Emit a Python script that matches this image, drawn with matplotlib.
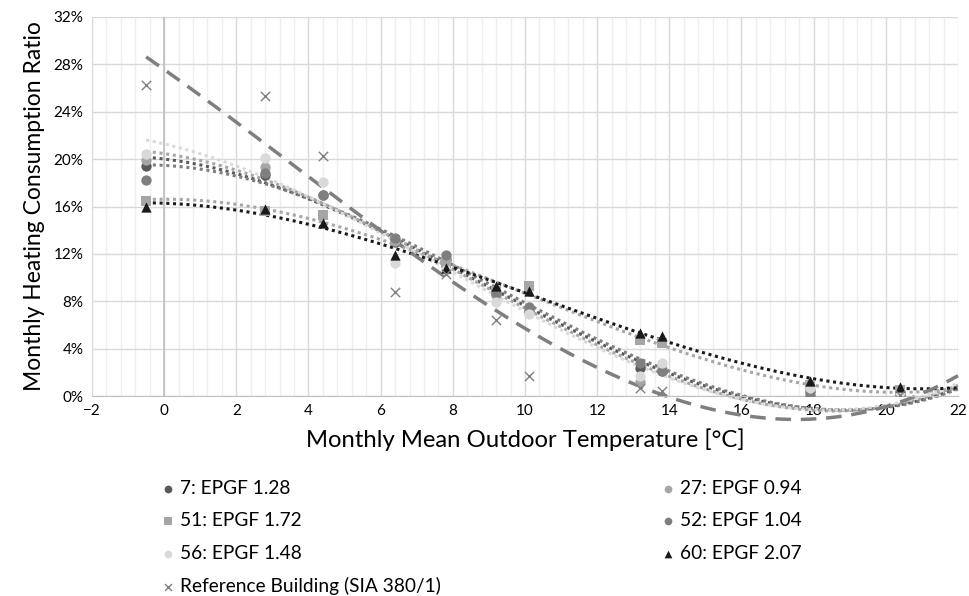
import numpy as np
import matplotlib
matplotlib.use("Agg")
import matplotlib.pyplot as plt
from matplotlib.ticker import MultipleLocator, FuncFormatter

# Points mensuels (ratio en %)
temps = [-0.5, 2.8, 4.4, 6.4, 7.8, 9.2, 10.1, 13.2, 13.8, 17.9, 20.4]

b7 = [19.4, 18.7, 17.0, 13.0, 11.6, 8.6, 7.2, 2.4, 2.1, 0.4, 0.2]
b27 = [19.9, 19.3, 17.0, 13.1, 11.4, 8.5, 7.0, 1.2, 2.3, 0.3, 0.2]
b51 = [16.5, 15.6, 15.3, 13.2, 11.2, 8.9, 9.3, 4.7, 4.5, 0.9, 0.5]
b52 = [18.2, 18.8, 17.0, 13.3, 11.9, 8.7, 7.5, 2.8, 2.1, 0.1, 0.2]
b56 = [20.4, 20.1, 18.1, 11.2, 10.6, 7.9, 6.9, 1.7, 2.8, 0.7, 0.3]
b60 = [16.0, 15.8, 14.6, 11.9, 10.8, 9.3, 8.9, 5.3, 5.1, 1.3, 0.8]
ref = [26.3, 25.3, 20.3, 8.8, 10.3, 6.4, 1.7, 0.7, 0.4, 0.0, 0.1]

# Courbes de tendance (polynôme ordre 3)
trend_x = [-0.5, 2, 6, 10, 14, 18, 20, 22]
t7 = [20.0, 19.0, 14.0, 7.3, 1.9, -0.8, -1.0, 0.6]
t27 = [20.5, 19.3, 14.0, 7.1, 1.7, -0.9, -1.1, 0.9]
t51 = [16.6, 16.1, 13.4, 8.5, 4.1, 0.9, 0.4, 0.6]
t52 = [19.4, 18.7, 14.3, 7.5, 2.1, -0.8, -1.0, 0.5]
t56 = [21.5, 19.6, 13.8, 6.9, 1.6, -0.9, -1.0, 1.1]
t60 = [16.3, 15.7, 12.9, 8.6, 4.6, 1.45, 0.7, 0.7]
tref = [28.7, 23.0, 14.0, 5.7, 0.0, -2.0, -1.0, 1.8]

labels = ["7: EPGF 1.28", "27: EPGF 0.94", "51: EPGF 1.72", "52: EPGF 1.04",
          "56: EPGF 1.48", "60: EPGF 2.07", "Reference Building (SIA 380/1)"]

plt.rcParams['font.family'] = ['Lato', 'DejaVu Sans']

series = [
    (b7, t7, "o", "#595959"),
    (b27, t27, "o", "#a6a6a6"),
    (b51, t51, "s", "#a6a6a6"),
    (b52, t52, "o", "#7f7f7f"),
    (b56, t56, "o", "#d9d9d9"),
    (b60, t60, "^", "#1a1a1a"),
]

fig = plt.figure(figsize=(9.7, 5.96), dpi=100)
ax = fig.add_axes([92 / 970, 1 - 396 / 596, 866 / 970, 379 / 596])

t = np.array(temps)
xfit = np.linspace(min(trend_x), max(trend_x), 200)

handles = []
for (vals, trend, marker, color), lab in zip(series, labels):
    coef = np.polyfit(trend_x, trend, 3)
    ax.plot(xfit, np.polyval(coef, xfit), linestyle=(0, (1, 1.2)), linewidth=2.2,
            color=color, clip_on=False, zorder=2)
    h = ax.scatter(t, vals, marker=marker, s=55, color=color, zorder=3, linewidths=0)
    handles.append(h)

coef = np.polyfit(trend_x, tref, 3)
ax.plot(xfit, np.polyval(coef, xfit), linestyle=(0, (4.5, 2.8)), linewidth=2.5,
        color="#7f7f7f", clip_on=False, zorder=2)
h = ax.scatter(t, ref, marker="x", s=45, color="#7f7f7f", linewidths=1.0, zorder=3)
handles.append(h)

ax.set_xlim(-2, 22)
ax.set_ylim(0, 32)
ax.xaxis.set_major_locator(MultipleLocator(2))
ax.xaxis.set_minor_locator(MultipleLocator(0.4))
ax.yaxis.set_major_locator(MultipleLocator(4))
ax.yaxis.set_major_formatter(FuncFormatter(lambda v, p: f"{v:.0f}%"))

ax.grid(which="major", color="#d9d9d9", linewidth=1)
ax.grid(which="minor", axis="x", color="#efefef", linewidth=1)
ax.set_axisbelow(True)
ax.axvline(0, color="#bfbfbf", linewidth=1.2, zorder=1)

for s in ["top", "right", "left"]:
    ax.spines[s].set_visible(False)
ax.spines["bottom"].set_color("#bfbfbf")
ax.tick_params(which="both", length=0, labelsize=11, colors="#000000", pad=6)

ax.set_xlabel("Monthly Mean Outdoor Temperature [°C]", fontsize=17.2, labelpad=7)
ax.set_ylabel("Monthly Heating Consumption Ratio", fontsize=16.5, labelpad=6)

# légende en deux colonnes sous le graphique
left_idx = [0, 2, 4, 6]
right_idx = [1, 3, 5]
for idx, xpos in [(left_idx, 162 / 970), (right_idx, 662 / 970)]:
    fig.legend([handles[i] for i in idx], [labels[i] for i in idx],
               loc="upper left", bbox_to_anchor=(xpos, 1 - 480 / 596),
               frameon=False, fontsize=13.8, markerscale=0.75,
               handlelength=0.6, handletextpad=0.35, labelspacing=0.8,
               borderaxespad=0, borderpad=0)

fig.savefig("out.png", dpi=100)
